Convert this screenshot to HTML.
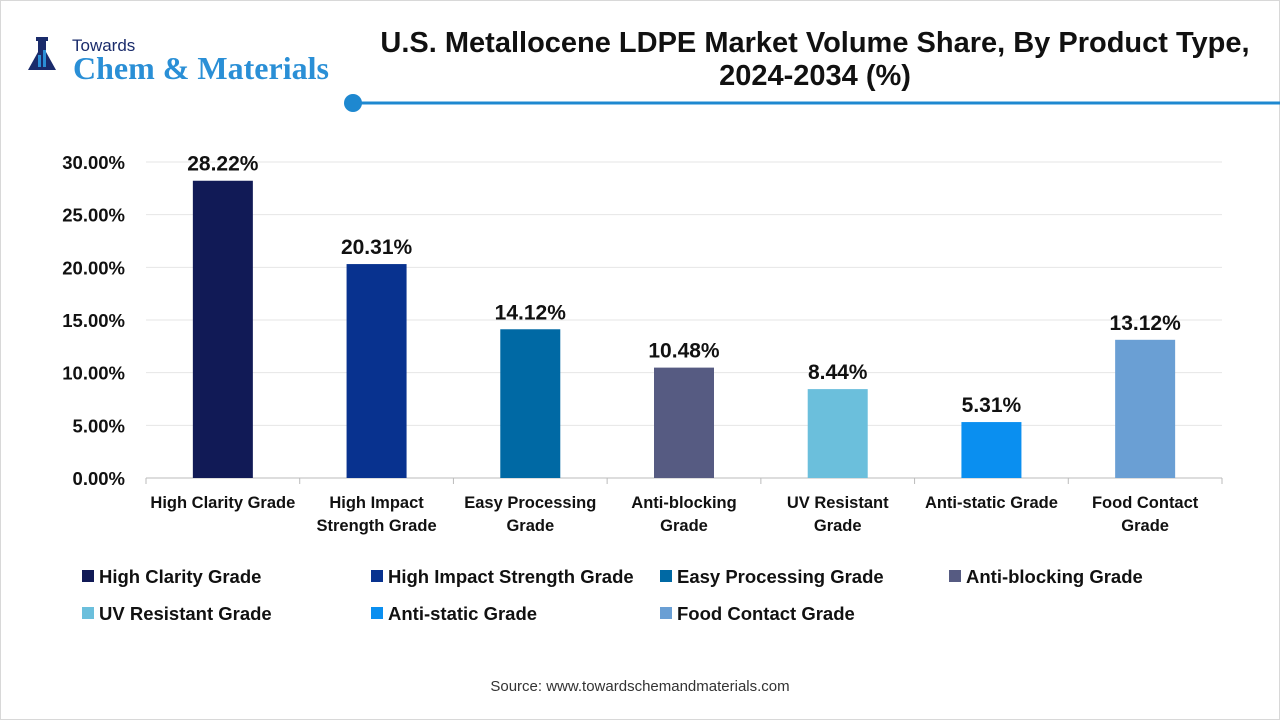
<!DOCTYPE html>
<html><head><meta charset="utf-8">
<style>
body{margin:0;width:1280px;height:720px;background:#fff;font-family:"Liberation Sans",sans-serif;overflow:hidden}
svg text{font-family:"Liberation Sans",sans-serif}
</style></head>
<body>
<svg id="c" width="1280" height="720" xmlns="http://www.w3.org/2000/svg">
<rect x="0.5" y="0.5" width="1279" height="719" fill="#fff" stroke="#d8d8d8"/>
<g>
<path d="M38 40h8v12l10 18h-28l10-18z" fill="#1a2b6b"/>
<rect x="36" y="37" width="12" height="4" fill="#1a2b6b"/>
<rect x="38" y="55" width="3" height="12" fill="#2a8fd6"/><rect x="43" y="50" width="3" height="17" fill="#2a8fd6"/>
<text x="72" y="51" font-size="17" fill="#1a2b6b">Towards</text>
<text x="73" y="79" font-size="32" font-weight="bold" fill="#2a8fd6" style="font-family:'Liberation Serif',serif">Chem &amp; Materials</text>
</g>
<text x="815" y="52" font-size="29" font-weight="bold" text-anchor="middle" fill="#111">U.S. Metallocene LDPE Market Volume Share, By Product Type,</text>
<text x="815" y="85" font-size="29" font-weight="bold" text-anchor="middle" fill="#111">2024-2034 (%)</text>
<line x1="353" y1="103" x2="1280" y2="103" stroke="#1e88d0" stroke-width="3"/>
<circle cx="353" cy="103" r="9" fill="#1e88d0"/>
<g id="plot"></g>
<text x="640" y="691" font-size="15" text-anchor="middle" fill="#333">Source: www.towardschemandmaterials.com</text>
</svg>
<script>
const categories=["High Clarity Grade","High Impact Strength Grade","Easy Processing Grade","Anti-blocking Grade","UV Resistant Grade","Anti-static Grade","Food Contact Grade"];
const labelLines=[["High Clarity Grade"],["High Impact","Strength Grade"],["Easy Processing","Grade"],["Anti-blocking","Grade"],["UV Resistant","Grade"],["Anti-static Grade"],["Food Contact","Grade"]];
const values=[28.22,20.31,14.12,10.48,8.44,5.31,13.12];
const colors=["#111a56","#08328f","#0069a4","#565b82","#6bbfdc","#0a8ff0","#6a9fd4"];
const ticks=[0,5,10,15,20,25,30];
const NS="http://www.w3.org/2000/svg";
const g=document.getElementById('plot');
const x0=146,x1=1222,y0=478,yTop=162,ymax=30;
const band=(x1-x0)/categories.length;
const y=v=>y0-(v/ymax)*(y0-yTop);
const xc=i=>x0+band*(i+0.5);
function mk(t,a,txt){const e=document.createElementNS(NS,t);for(const k in a)e.setAttribute(k,a[k]);if(txt!=null)e.textContent=txt;g.appendChild(e);return e;}
ticks.forEach(t=>{
  if(t>0){const l=mk('line',{x1:x0,x2:x1,y1:y(t),y2:y(t),stroke:'#e6e6e6'});
  
  }
  const tx=mk('text',{x:125,y:y(t)+7,'font-size':18.5,'font-weight':'bold','text-anchor':'end',fill:'#111'},t.toFixed(2)+'%');
  
  
});
const ax=mk('line',{x1:x0,x2:x1,y1:y0,y2:y0,stroke:'#bbb'});


for(let i=0;i<=categories.length;i++){const t=mk('line',{x1:x0+band*i,x2:x0+band*i,y1:y0,y2:y0+6,stroke:'#bbb'});

}
values.forEach((v,i)=>{
  const r=mk('rect',{x:xc(i)-30,y:y(v),width:60,height:y0-y(v),fill:colors[i]});
  
  
  const t=mk('text',{x:xc(i),y:y(v)-10,'font-size':21,'font-weight':'bold','text-anchor':'middle',fill:'#111'},v.toFixed(2)+'%');
  
  
  labelLines[i].forEach((s,j)=>{const c=mk('text',{x:xc(i),y:508+j*23,'font-size':16.5,'font-weight':'bold','text-anchor':'middle',fill:'#111'},s);
  
  });
});
const lx=[82,371,660,949];
categories.forEach((c,i)=>{
  const col=i%4,row=Math.floor(i/4);const yy=577+row*37;
  const s=mk('rect',{x:lx[col],y:yy-7,width:12,height:12,fill:colors[i]});
  
  
  const t=mk('text',{x:lx[col]+17,y:yy+6,'font-size':18.5,'font-weight':'bold',fill:'#111'},c);
  
  
});
</script>
</body></html>
